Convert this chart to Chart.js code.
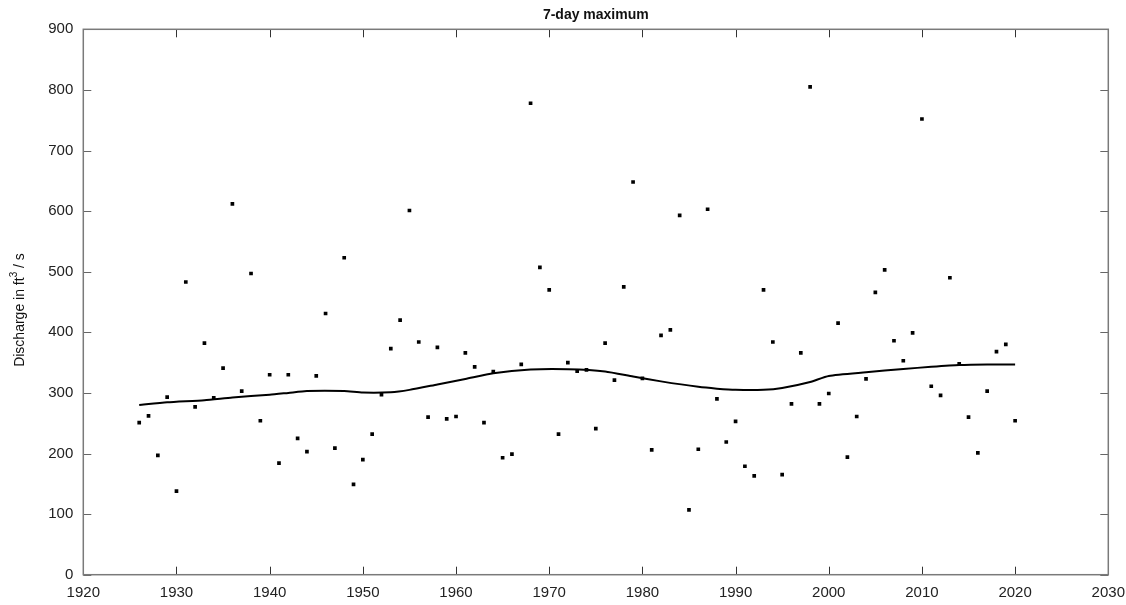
<!DOCTYPE html>
<html>
<head>
<meta charset="utf-8">
<script src="https://cdn.jsdelivr.net/npm/chart.js@4/dist/chart.umd.min.js"></script>
<style>
  html, body { margin:0; padding:0; background:#fff; }
  #wrap { width:1126px; height:605px; position:relative; }
</style>
</head>
<body>
<div id="wrap"><canvas id="chart"></canvas></div>
<script>
// === DATA ===
const years = [
  1926,1927,1928,1929,1930,1931,1932,1933,1934,1935,1936,1937,1938,1939,1940,
  1941,1942,1943,1944,1945,1946,1947,1948,1949,1950,1951,1952,1953,1954,1955,
  1956,1957,1958,1959,1960,1961,1962,1963,1964,1965,1966,1967,1968,1969,1970,
  1971,1972,1973,1974,1975,1976,1977,1978,1979,1980,1981,1982,1983,1984,1985,
  1986,1987,1988,1989,1990,1991,1992,1993,1994,1995,1996,1997,1998,1999,2000,
  2001,2002,2003,2004,2005,2006,2007,2008,2009,2010,2011,2012,2013,2014,2015,
  2016,2017,2018,2019,2020
];
const maxFlow = [
  251,262,197,293,138,483,277,382,292,341,612,303,497,254,330,
  184,330,225,203,328,431,209,523,149,190,232,297,373,420,601,
  384,260,375,257,261,366,343,251,335,193,199,347,778,507,470,
  232,350,336,338,241,382,321,475,648,324,206,395,404,593,107,
  207,603,290,219,253,179,163,470,384,165,282,366,805,282,299,
  415,194,261,323,466,503,386,353,399,752,311,296,490,348,260,
  201,303,368,380,254
];
// smooth trend line
const trendYears = [1926,1929,1933,1936,1940,1942,1944,1948,1950,1953,1955,1958,1961,1964,1968,1972,
                    1976,1979,1982,1986,1988,1990,1993,1995,1998,2000,2004,2008,2011,2014,2017,2020];
const trendVals  = [280,284.5,288,292.5,297,300,303,303,300.5,301,305,314,323,332.5,338.5,339,
                    335.5,327,319,310,307,305,305,308,318,328,334,339.5,343,346,347,347];

const xTicks = [1920,1930,1940,1950,1960,1970,1980,1990,2000,2010,2020,2030];
const yTicks = [0,100,200,300,400,500,600,700,800,900];

const titleText = '7-day maximum';
const yLabel = ['Discharge in ft', '3', ' / s'];

// === FRAME, INNER TICKS AND TITLES ===
const framePlugin = {
  id: 'frame',
  afterDraw(chart){
    const {ctx, chartArea:a, scales:{x, y}} = chart;
    ctx.save();
    // ticks pointing inward
    ctx.lineWidth = 1;
    ctx.strokeStyle = '#333';
    xTicks.forEach(v=>{
      const px = Math.round(x.getPixelForValue(v))+0.5;
      ctx.beginPath();
      ctx.moveTo(px, a.bottom); ctx.lineTo(px, a.bottom-8);
      ctx.moveTo(px, a.top); ctx.lineTo(px, a.top+8);
      ctx.stroke();
    });
    ctx.strokeStyle = '#666';
    yTicks.forEach(v=>{
      const py = Math.round(y.getPixelForValue(v))+0.5;
      ctx.beginPath();
      ctx.moveTo(a.left, py); ctx.lineTo(a.left+8, py);
      ctx.moveTo(a.right, py); ctx.lineTo(a.right-8, py);
      ctx.stroke();
    });
    // box
    ctx.strokeStyle = '#7a7a7a';
    ctx.lineWidth = 1.5;
    ctx.strokeRect(a.left, a.top, a.right-a.left, a.bottom-a.top);

    // title
    ctx.fillStyle = '#111';
    ctx.font = 'bold 14px "Liberation Sans", Arial, sans-serif';
    ctx.textAlign = 'center';
    ctx.textBaseline = 'middle';
    ctx.fillText(titleText, (a.left+a.right)/2, 15);

    // y axis label with superscript
    ctx.translate(20, 310);
    ctx.rotate(-Math.PI/2);
    const big = '14px "Liberation Sans", Arial, sans-serif';
    const small = '10px "Liberation Sans", Arial, sans-serif';
    ctx.font = big; const w1 = ctx.measureText(yLabel[0]).width, w3 = ctx.measureText(yLabel[2]).width;
    ctx.font = small; const w2 = ctx.measureText(yLabel[1]).width;
    let cx = -(w1+w2+w3)/2;
    ctx.textAlign = 'left';
    ctx.textBaseline = 'middle';
    ctx.font = big; ctx.fillText(yLabel[0], cx, 0); cx += w1;
    ctx.font = small; ctx.fillText(yLabel[1], cx, -6); cx += w2;
    ctx.font = big; ctx.fillText(yLabel[2], cx, 0);
    ctx.restore();
  }
};

// === CHART ===
const tickFont = {family:'"Liberation Sans", Arial, sans-serif', size:15};

new Chart(document.getElementById('chart'), {
  type:'scatter',
  data:{
    datasets:[
      {
        label:'7-day maximum',
        data: years.map((yr,i)=>({x:yr, y:maxFlow[i]})),
        pointStyle:'rect', pointRadius:2.6, pointHoverRadius:2.6,
        backgroundColor:'#000', borderColor:'#000', borderWidth:0,
        showLine:false
      },
      {
        label:'trend',
        data: trendYears.map((yr,i)=>({x:yr, y:trendVals[i]})),
        showLine:true, pointRadius:0, borderColor:'#000', borderWidth:2,
        tension:0.2, fill:false
      }
    ]
  },
  options:{
    responsive:true, maintainAspectRatio:false, animation:false,
    layout:{padding:{top:29.3, right:17.7, left:0, bottom:0}},
    plugins:{legend:{display:false}, tooltip:{enabled:false}, title:{display:false}},
    scales:{
      x:{
        type:'linear', min:1920, max:2030,
        afterBuildTicks: s => { s.ticks = xTicks.map(v=>({value:v})); },
        afterFit: s => { s.height = 30.3; s.paddingLeft = 0; s.paddingRight = 0; },
        grid:{display:false, drawTicks:false}, border:{display:false},
        ticks:{font:tickFont, color:'#222', padding:9, maxRotation:0, callback:v=>String(v)}
      },
      y:{
        min:0, max:900,
        afterBuildTicks: s => { s.ticks = yTicks.map(v=>({value:v})); },
        afterFit: s => { s.width = 83.3; s.paddingTop = 0; s.paddingBottom = 0; },
        grid:{display:false, drawTicks:false}, border:{display:false},
        ticks:{font:tickFont, color:'#222', padding:10, callback:v=>String(v)}
      }
    }
  },
  plugins:[framePlugin]
});
</script>
</body>
</html>
